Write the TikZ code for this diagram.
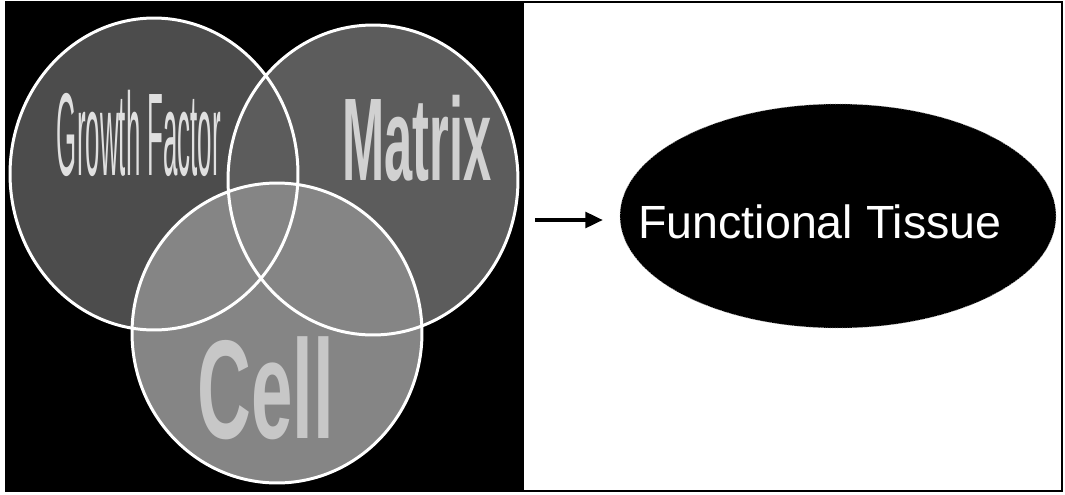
\documentclass[tikz,border=0pt]{standalone}
\usepackage{fontspec}
\setmainfont{Liberation Sans}
\newfontfamily\gfnarrow[FakeStretch=0.22]{Liberation Sans}
\newfontfamily\mxnarrow[FakeStretch=0.43]{Liberation Sans}
\newfontfamily\cellnarrow[FakeStretch=0.53]{Liberation Sans}
\usetikzlibrary{shapes.geometric, arrows.meta}

\begin{document}
\begin{tikzpicture}[x=0.02cm, y=-0.02cm,
  ring/.style={ellipse, draw=white, line width=1.7pt, inner sep=0pt},
  vennlabel/.style={anchor=base, inner sep=0pt}]
\useasboundingbox (0,0) rectangle (1065,494);

% ----------------------------------------------------
% 1. Venn panel
% ----------------------------------------------------
\fill[black] (7,3) rectangle (524,491);

\fill[black!70] (154,174) ellipse [x radius=144, y radius=156];
\fill[black!64] (373,180) ellipse [x radius=145, y radius=155];
\fill[black!48] (277,333) ellipse [x radius=145, y radius=150];

\node[ring, minimum width=5.76cm, minimum height=6.24cm] (gfring) at (154,174) {};
\node[ring, minimum width=5.8cm, minimum height=6.2cm] (mxring) at (373,180) {};
\node[ring, minimum width=5.8cm, minimum height=6cm] (cellring) at (277,333) {};

\node[vennlabel, text=black!12, font=\gfnarrow\fontsize{67}{67}\selectfont] (gflabel) at (139,175) {Growth Factor};
\node[vennlabel, text=black!18, font=\mxnarrow\bfseries\fontsize{67}{67}\selectfont] (mxlabel) at (417,180) {Matrix};
\node[vennlabel, text=black!22, font=\cellnarrow\bfseries\fontsize{80}{80}\selectfont] (celllabel) at (266,438) {Cell};

% ----------------------------------------------------
% 2. Result
% ----------------------------------------------------
\node[ellipse, fill=black, draw=black!35, densely dotted, minimum width=8.72cm, minimum height=4.48cm] (tissue) at (838,216) {};
\node[vennlabel, text=white, font=\fontsize{26.5}{26.5}\selectfont] (tissuelabel) at (820,238) {Functional Tissue};

\coordinate (arrowtail) at (535,220);
\draw[line width=2pt, -{Triangle[length=10pt,width=9pt]}, shorten >=9.6pt] (arrowtail) -- (arrowtail -| tissue.west);

% outer frame
\draw[line width=0.6pt] (6,2) rectangle (1062,491);

\end{tikzpicture}
\end{document}
